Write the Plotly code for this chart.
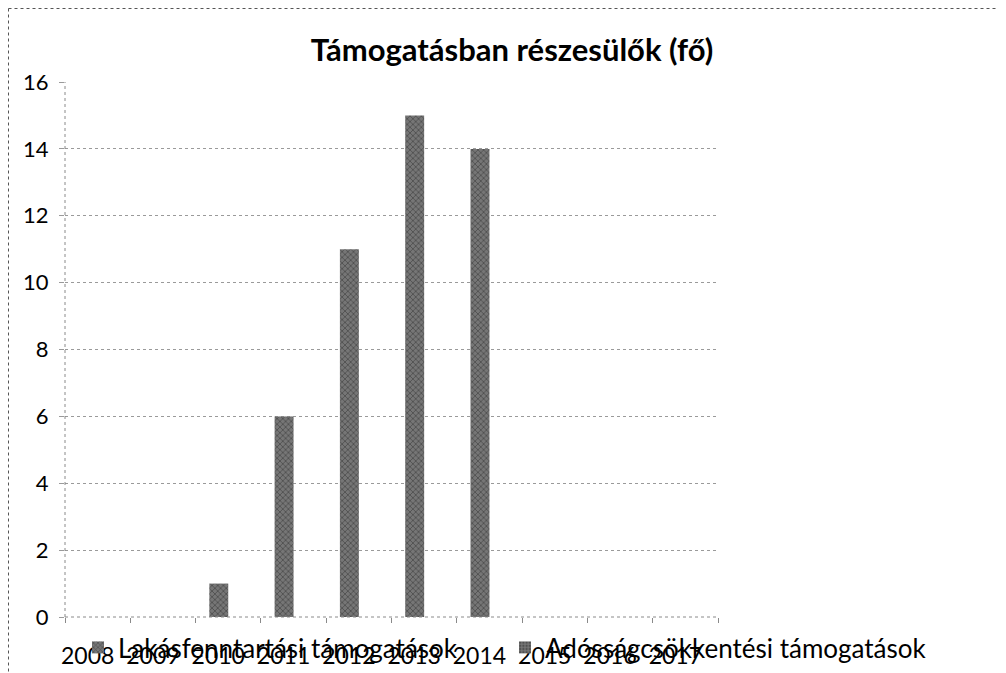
import plotly.graph_objects as go

years = ["2008", "2009", "2010", "2011", "2012", "2013", "2014", "2015", "2016", "2017"]
lakasfenntartasi = [0, 0, 1, 6, 11, 15, 14, 0, 0, 0]
adossagcsokkentesi = [0, 0, 0, 0, 0, 0, 0, 0, 0, 0]
series_names = ["Lakásfenntartási támogatások", "Adósságcsökkentési támogatások"]
title_text = "Támogatásban részesülők (fő)"
y_ticks = [0, 2, 4, 6, 8, 10, 12, 14, 16]

# page body adds an 8px offset, so the figure is 8px smaller than the window
W, H = 998, 665
L, R, T, B = 57, 288, 74, 56
FONT = "Lato, 'Open Sans', sans-serif"
NARROW = "'Liberation Sans Narrow', 'Arial Narrow', Lato, sans-serif"

fig = go.Figure()
fig.add_trace(go.Bar(
    x=years, y=lakasfenntartasi, name=series_names[0], legend="legend",
    marker=dict(color="#767676", line=dict(width=0),
                pattern=dict(shape="x", fgcolor="#2a2a2a", size=4, solidity=0.4)),
))
fig.add_trace(go.Bar(
    x=years, y=adossagcsokkentesi, name=series_names[1], legend="legend2",
    marker=dict(color="#767676", line=dict(width=0),
                pattern=dict(shape=".", fgcolor="#2a2a2a", size=4, solidity=0.45)),
))

pw = W - L - R
ph = H - T - B
def px_x(p):
    return (p - L) / pw
def px_y(p):
    return (H - B - p) / ph

legend_common = dict(orientation="h", xanchor="left", yanchor="top",
                     font=dict(family=FONT, size=26, color="black"),
                     bgcolor="rgba(0,0,0,0)")

fig.update_layout(
    width=W, height=H,
    margin=dict(l=L, r=R, t=T, b=B, autoexpand=False),
    paper_bgcolor="white", plot_bgcolor="white",
    barmode="group", bargap=0.42, bargroupgap=0,
    font=dict(family=FONT, size=19, color="black"),
    title=dict(text="<b>" + title_text + "</b>", xref="container", x=504 / W,
               xanchor="center", yref="container", y=1 - 42 / H, yanchor="middle",
               font=dict(family=FONT, size=31, color="black")),
    showlegend=True,
    legend=dict(x=px_x(70), y=px_y(616), **legend_common),
    legend2=dict(x=px_x(497), y=px_y(616), **legend_common),
    xaxis=dict(type="category", categoryorder="array", categoryarray=years,
               showgrid=False, showline=False,
               ticks="outside", tickson="boundaries", ticklen=5, tickcolor="#8a8a8a",
               ticklabelshift=-10, ticklabelstandoff=23,
               tickfont=dict(family=NARROW, size=23, color="black"), zeroline=False),
    yaxis=dict(range=[0, 16], tickvals=y_ticks, showgrid=True, gridcolor="#9a9a9a",
               griddash="dot", gridwidth=1, showline=False,
               ticks="outside", ticklen=5, tickcolor="#9a9a9a", zeroline=False,
               tickfont=dict(family=FONT, size=22, color="black"), ticklabelstandoff=6),
    shapes=[
        # dotted axis lines
        dict(type="line", xref="paper", yref="paper", x0=0, x1=0, y0=0, y1=1,
             line=dict(color="#8a8a8a", width=1, dash="dot")),
        dict(type="line", xref="paper", yref="paper", x0=0, x1=1, y0=0, y1=0,
             line=dict(color="#8a8a8a", width=1, dash="dot")),
        # outer chart border (top and left)
        dict(type="line", xref="paper", yref="paper", x0=px_x(0.5), x1=px_x(W),
             y0=px_y(0.5), y1=px_y(0.5), line=dict(color="#555", width=1, dash="dot")),
        dict(type="line", xref="paper", yref="paper", x0=px_x(0.5), x1=px_x(0.5),
             y0=px_y(0.5), y1=px_y(H), line=dict(color="#555", width=1, dash="dot")),
    ],
)

fig.write_html("out.html")
